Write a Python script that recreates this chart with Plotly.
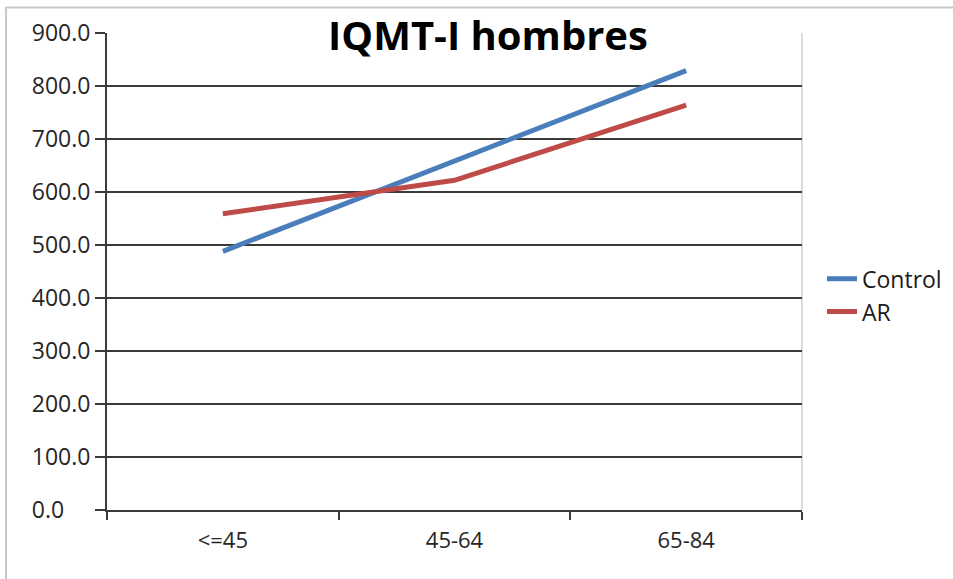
import plotly.graph_objects as go

categories = ["<=45", "45-64", "65-84"]
control = [488, 658, 829]
ar = [559, 622, 764]
y_tick_vals = [0, 100, 200, 300, 400, 500, 600, 700, 800, 900]
y_tick_text = ["0.0\u2007\u2007", "100.0", "200.0", "300.0", "400.0", "500.0", "600.0", "700.0", "800.0", "900.0"]

W, H = 953, 579
ml, mr, mt, mb = 107, 151, 32.5, 69
pw, ph = W - ml - mr, H - mt - mb


def px_to_paper_y(py):
    return (mt + ph - py) / ph


def px_to_paper_x(px):
    return (px - ml) / pw


fig = go.Figure()
fig.add_trace(go.Scatter(x=categories, y=control, mode="lines", name="Control",
                         line=dict(color="#4A7EBB", width=5)))
fig.add_trace(go.Scatter(x=categories, y=ar, mode="lines", name="AR",
                         line=dict(color="#BE4B48", width=5)))

font_family = "Open Sans, sans-serif"
fig.update_layout(
    width=W, height=H,
    margin=dict(l=ml, r=mr, t=mt, b=mb, pad=0, autoexpand=False),
    paper_bgcolor="white", plot_bgcolor="white",
    font=dict(family=font_family, size=23, color="#262626"),
    title=dict(text="<b>IQMT-I hombres</b>", x=488 / W, xanchor="center",
               y=1 - 36 / H, yanchor="middle",
               font=dict(family=font_family, size=40, color="#000000")),
    showlegend=True,
    legend=dict(x=px_to_paper_x(822), xanchor="left", y=px_to_paper_y(295), yanchor="middle",
                bgcolor="rgba(0,0,0,0)", font=dict(size=23, color="#1a1a1a"),
                tracegroupgap=0, itemwidth=30),
    xaxis=dict(type="category", range=[-0.5, 2.5], showgrid=False,
               showline=True, linecolor="#3a3a3a", linewidth=2,
               ticks="outside", tickson="boundaries", ticklen=8, tickwidth=2, tickcolor="#3a3a3a",
               tickfont=dict(size=22), ticklabelstandoff=10, fixedrange=True),
    yaxis=dict(range=[0, 900], tickvals=y_tick_vals, ticktext=y_tick_text,
               showgrid=True, gridcolor="#3a3a3a", gridwidth=2,
               showline=True, linecolor="#3a3a3a", linewidth=2,
               ticks="outside", ticklen=10, tickwidth=2, tickcolor="#3a3a3a",
               tickfont=dict(size=23), zeroline=False, fixedrange=True),
)

# plot-area right border
fig.add_shape(type="line", xref="paper", yref="paper", x0=1, x1=1, y0=0, y1=1,
              line=dict(color="#d0d0d0", width=1.5), layer="below")
# outer chart frame (left and top edges visible)
fig.add_shape(type="rect", xref="paper", yref="paper",
              x0=px_to_paper_x(6), x1=px_to_paper_x(W + 20),
              y0=px_to_paper_y(H + 20), y1=px_to_paper_y(7),
              line=dict(color="#c8c8c8", width=2), layer="below")

fig.write_html("out.html")
